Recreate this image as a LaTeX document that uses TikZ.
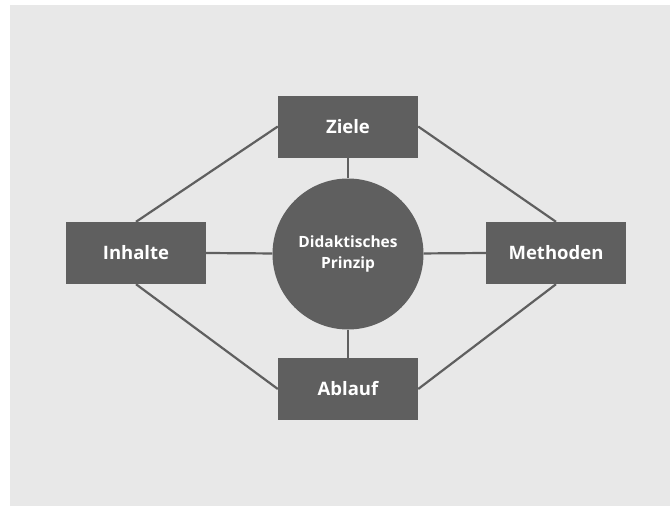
\documentclass[tikz,border=0pt]{standalone}
\usepackage{fontspec}
\setmainfont{Open Sans}
\definecolor{panel}{HTML}{E8E8E8}
\definecolor{boxc}{HTML}{5F5F5F}
\tikzset{
  box/.style={fill=boxc, draw=none, minimum width=140pt, minimum height=62pt, inner sep=0pt, text=white, font=\fontsize{18.5}{22}\selectfont\bfseries},
  hub/.style={circle, fill=boxc, draw=none, minimum size=151pt, inner sep=0pt, text=white, align=center, font=\fontsize{15.5}{21}\selectfont\bfseries},
  link/.style={draw=boxc, line width=2.2pt}
}
\begin{document}
\begin{tikzpicture}[x=1pt,y=-1pt]
\useasboundingbox (0,0) rectangle (670,506);
\fill[panel] (10,5) rectangle (670,506);
\node[box] (ziele) at (348,126.5) {Ziele};
\node[box] (inhalte) at (136,253) {Inhalte};
\node[box] (methoden) at (556,253) {Methoden};
\node[box] (ablauf) at (348,389) {Ablauf};
\node[hub] (hub) at (348,254) {Didaktisches\\Prinzip};
\draw[link] (ziele.south) -- (hub);
\draw[link] (ablauf.north) -- (hub);
\draw[link] (inhalte.east) -- (hub);
\draw[link] (methoden.west) -- (hub);
\draw[link] (inhalte.north) -- (ziele.west);
\draw[link] (methoden.north) -- (ziele.east);
\draw[link] (inhalte.south) -- (ablauf.west);
\draw[link] (methoden.south) -- (ablauf.east);
\end{tikzpicture}
\end{document}
